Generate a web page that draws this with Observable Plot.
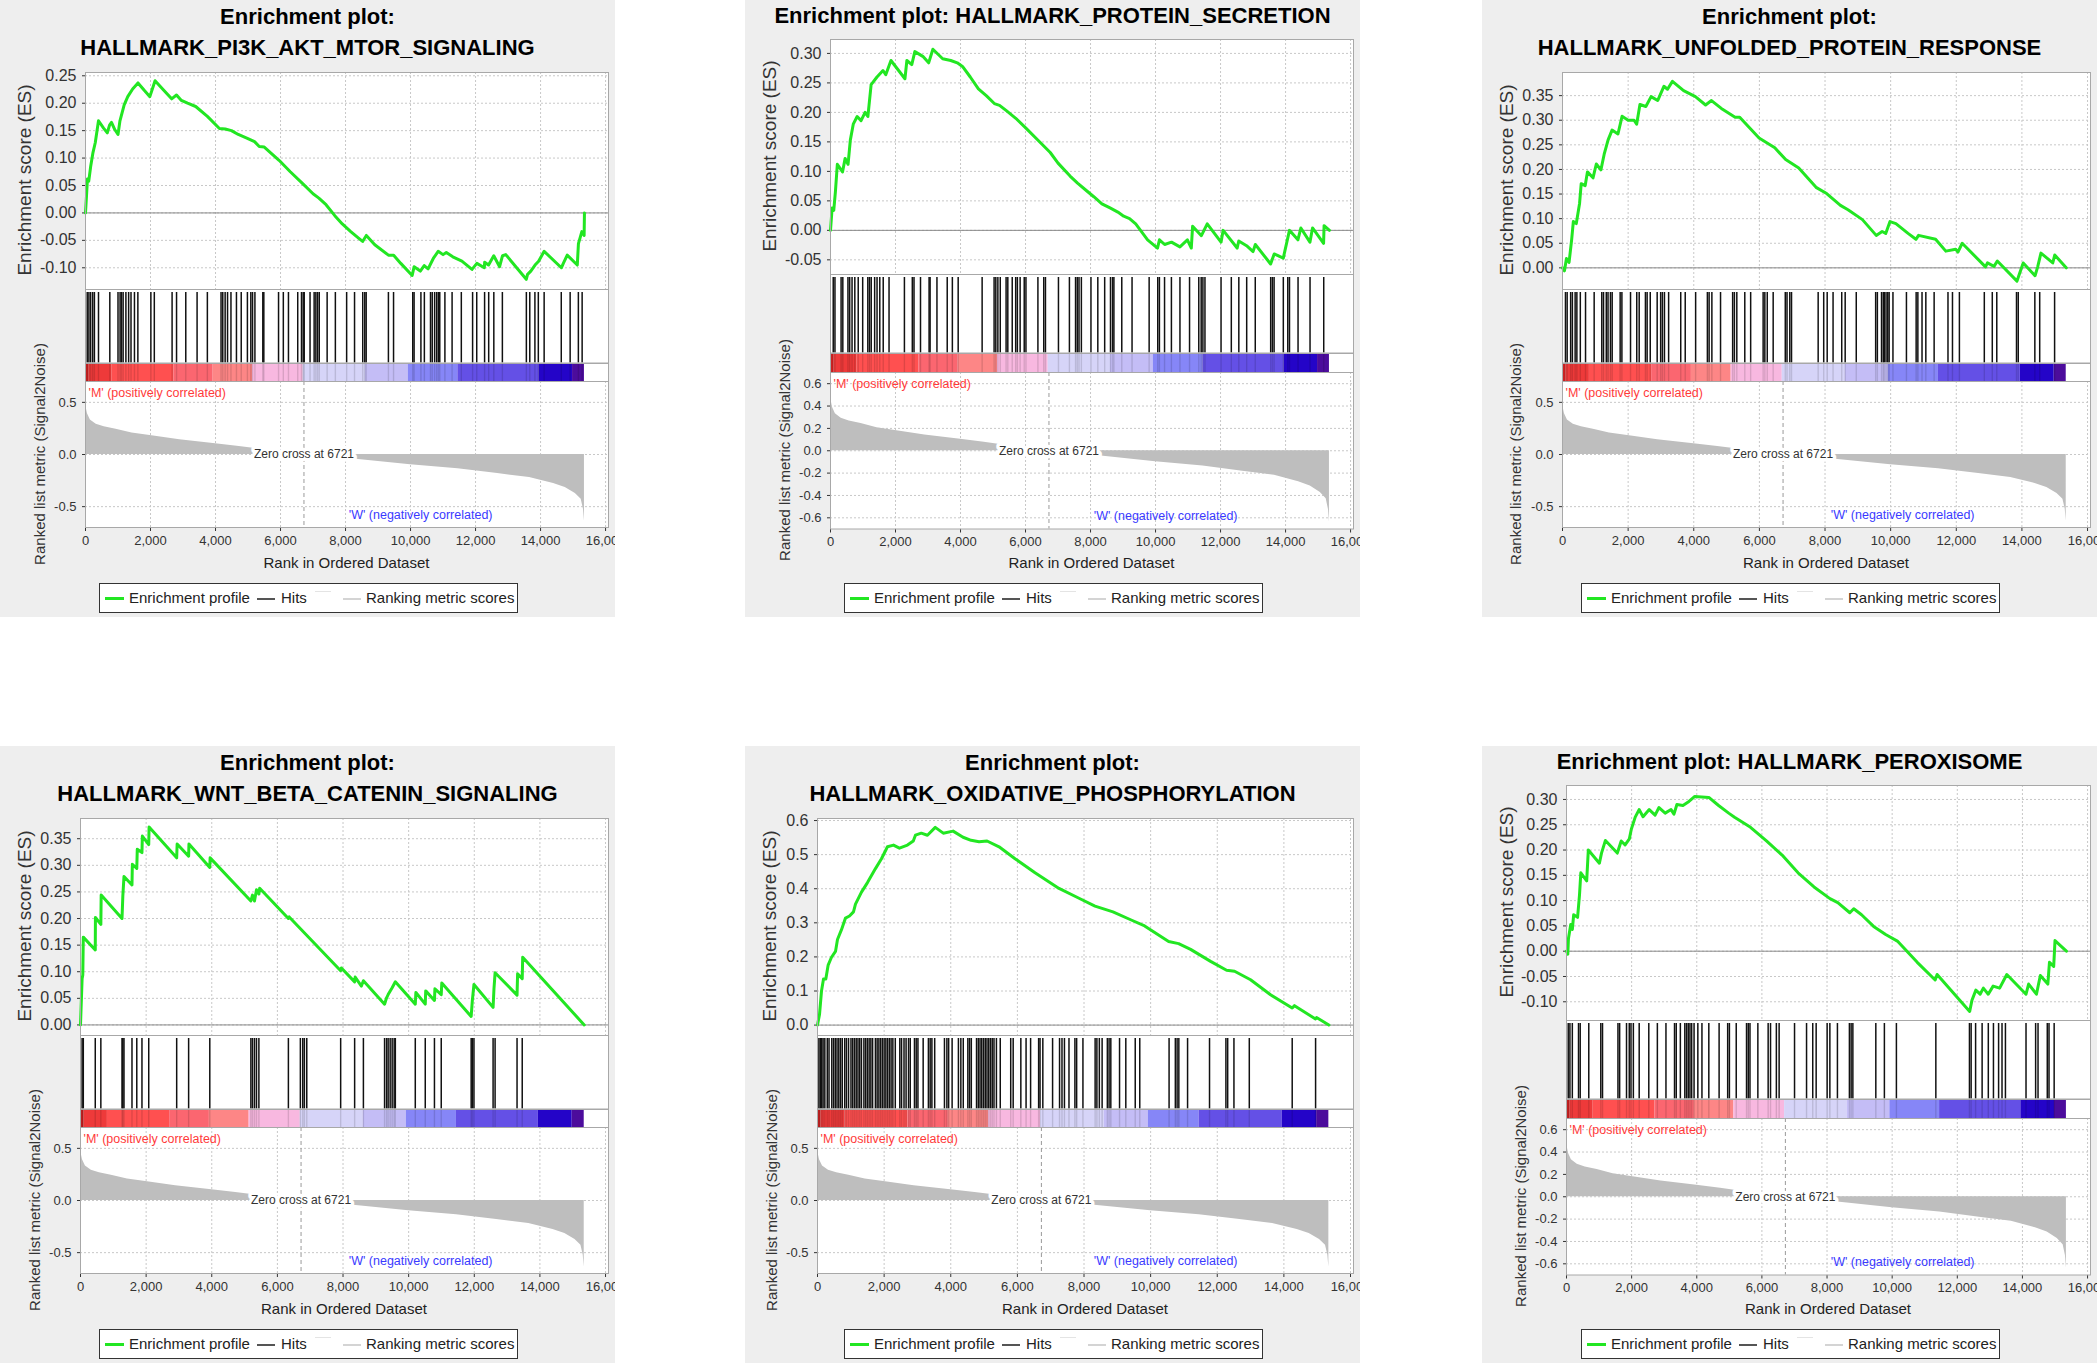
<!DOCTYPE html>
<html>
<head>
<meta charset="utf-8">
<script src="https://cdn.jsdelivr.net/npm/d3@7"></script>
<script src="https://cdn.jsdelivr.net/npm/@observablehq/plot@0.6"></script>
<style>
  body { margin: 0; background: #ffffff; font-family: "Liberation Sans", Arial, sans-serif; }
  #root { position: relative; width: 2098px; height: 1363px; background: #ffffff; }
  .panel { position: absolute; width: 615px; height: 617px; background: #eeeeee; overflow: hidden; }
  .title { position: absolute; left: 0; width: 615px; text-align: center; font-weight: bold; font-size: 22px; line-height: 26px; color: #000; white-space: nowrap; }
  .ylab { position: absolute; white-space: nowrap; transform: translate(-50%, -50%) rotate(-90deg); color: #333; }
  .xlab { position: absolute; white-space: nowrap; transform: translate(-50%, -50%); color: #222; font-size: 15px; }
  .legend { position: absolute; left: 99px; top: 583px; width: 417px; height: 28px; border: 1.5px solid #333; background: #fff; }
  .legend .ln { position: absolute; }
  .legend .tx { position: absolute; top: 0; line-height: 28px; font-size: 15px; color: #222; white-space: nowrap; }
</style>
</head>
<body>
<div id="root"></div>
<script>
// ---------------- data ----------------
const panelTitles = [
  ["Enrichment plot:", "HALLMARK_PI3K_AKT_MTOR_SIGNALING"],
  ["Enrichment plot: HALLMARK_PROTEIN_SECRETION"],
  ["Enrichment plot:", "HALLMARK_UNFOLDED_PROTEIN_RESPONSE"],
  ["Enrichment plot:", "HALLMARK_WNT_BETA_CATENIN_SIGNALING"],
  ["Enrichment plot:", "HALLMARK_OXIDATIVE_PHOSPHORYLATION"],
  ["Enrichment plot: HALLMARK_PEROXISOME"]
];

const xTicks = [0, 2000, 4000, 6000, 8000, 10000, 12000, 14000, 16000];
const zeroCross = 6721;
const posLabel = "'M' (positively correlated)";
const negLabel = "'W' (negatively correlated)";
const zeroLabel = "Zero cross at 6721";
const esAxisTitle = "Enrichment score (ES)";
const metricAxisTitle = "Ranked list metric (Signal2Noise)";
const xAxisTitle = "Rank in Ordered Dataset";
const legendLabels = ["Enrichment profile", "Hits", "Ranking metric scores"];

// ranked list metric (same ranked list for all six sets): [rank, metric]
const metricCurve = [[0,0.52],[20,0.45],[60,0.39],[150,0.33],[330,0.29],[575,0.266],[940,0.243],[1430,0.205],[2040,0.179],[2900,0.141],[4000,0.103],[4730,0.076],[5220,0.057],[6000,0.03],[6721,0.0],[7500,-0.025],[8400,-0.049],[10000,-0.099],[11460,-0.137],[12680,-0.183],[13660,-0.22],[14400,-0.278],[14760,-0.316],[15070,-0.373],[15250,-0.43],[15320,-0.525],[15350,-0.64]];

// colour bar
const barBounds = [0,100,820,2716,3928,5139,6697,8613,9930,11456,13952,14984,15350];
const barColors = ["#cc2222","#ee3a3a","#ff5050","#fb6670","#fd8686","#f8b8e0","#d6d4f8","#c4bdf6","#8686f7","#6450e6","#2404c8","#4c0c9c"];

// running enrichment scores: [rank, ES]
const es1 = [[0,0],[30,0.03],[60,0.062],[100,0.058],[160,0.085],[230,0.11],[300,0.128],[400,0.168],[550,0.155],[670,0.146],[740,0.16],[800,0.165],[900,0.152],[1000,0.143],[1060,0.168],[1190,0.197],[1300,0.212],[1450,0.226],[1615,0.237],[1800,0.224],[1980,0.212],[2140,0.241],[2400,0.224],[2650,0.208],[2800,0.215],[2950,0.205],[3140,0.2],[3390,0.194],[3750,0.176],[4120,0.154],[4300,0.153],[4490,0.15],[4700,0.143],[4980,0.136],[5200,0.13],[5345,0.121],[5500,0.12],[5955,0.096],[6300,0.075],[6690,0.053],[7000,0.035],[7180,0.027],[7400,0.015],[7670,-0.005],[7900,-0.02],[8160,-0.034],[8400,-0.046],[8525,-0.052],[8640,-0.041],[8900,-0.058],[9320,-0.077],[9480,-0.077],[9700,-0.092],[10050,-0.114],[10110,-0.098],[10300,-0.106],[10420,-0.096],[10540,-0.102],[10700,-0.083],[10850,-0.07],[11000,-0.076],[11100,-0.072],[11300,-0.08],[11580,-0.088],[11890,-0.103],[12040,-0.092],[12270,-0.1],[12280,-0.09],[12400,-0.095],[12560,-0.078],[12740,-0.098],[12830,-0.078],[12930,-0.076],[13560,-0.121],[13600,-0.112],[13700,-0.106],[13830,-0.095],[13940,-0.088],[14110,-0.07],[14640,-0.1],[14700,-0.092],[14820,-0.077],[15130,-0.095],[15165,-0.056],[15270,-0.034],[15340,-0.041],[15350,0.0]];
const es2 = [[0,0],[50,0.038],[100,0.034],[150,0.065],[210,0.112],[370,0.099],[450,0.122],[540,0.112],[610,0.153],[700,0.18],[820,0.193],[940,0.186],[1065,0.2],[1150,0.193],[1250,0.247],[1430,0.26],[1615,0.271],[1700,0.264],[1860,0.288],[2290,0.257],[2350,0.288],[2500,0.281],[2595,0.303],[2840,0.295],[3020,0.284],[3150,0.307],[3450,0.291],[3700,0.288],[3900,0.284],[4060,0.278],[4300,0.26],[4550,0.24],[4800,0.228],[5040,0.215],[5200,0.212],[5410,0.203],[5700,0.19],[6020,0.173],[6400,0.152],[6760,0.132],[7000,0.114],[7370,0.092],[7600,0.08],[7860,0.068],[8100,0.057],[8350,0.045],[8600,0.038],[8840,0.031],[9020,0.024],[9200,0.02],[9390,0.011],[9755,-0.016],[10060,-0.03],[10120,-0.016],[10280,-0.024],[10490,-0.02],[10750,-0.028],[10980,-0.016],[11100,-0.03],[11140,0.007],[11410,-0.009],[11590,0.011],[12015,-0.02],[12080,0.0],[12510,-0.03],[12560,-0.018],[12800,-0.026],[13000,-0.036],[13070,-0.024],[13540,-0.057],[13650,-0.04],[13930,-0.047],[14120,0.0],[14380,-0.016],[14470,0.004],[14750,-0.02],[14830,0.004],[15170,-0.022],[15185,0.008],[15350,0.0]];
const es3 = [[0,0],[60,-0.006],[120,0.019],[200,0.011],[280,0.058],[330,0.094],[420,0.09],[520,0.131],[570,0.171],[690,0.167],[760,0.195],[930,0.183],[1030,0.211],[1170,0.199],[1270,0.231],[1390,0.26],[1510,0.28],[1690,0.272],[1815,0.308],[2000,0.3],[2180,0.3],[2260,0.292],[2360,0.332],[2540,0.328],[2700,0.348],[2900,0.34],[3090,0.369],[3200,0.363],[3350,0.379],[3690,0.36],[4050,0.348],[4360,0.331],[4540,0.34],[4840,0.324],[5260,0.306],[5400,0.306],[5990,0.264],[6470,0.244],[6800,0.22],[7200,0.203],[7740,0.163],[8050,0.151],[8470,0.127],[8700,0.118],[9140,0.098],[9560,0.066],[9740,0.074],[9850,0.07],[9980,0.094],[10160,0.09],[10530,0.07],[10770,0.058],[10850,0.066],[11370,0.058],[11680,0.034],[11980,0.038],[12050,0.032],[12180,0.05],[12890,0.002],[12950,0.01],[13150,0.003],[13250,0.014],[13850,-0.027],[13910,-0.015],[14040,0.01],[14400,-0.016],[14480,0.002],[14580,0.03],[14940,0.01],[15000,0.026],[15350,0.0]];
const es4 = [[0,0],[49,0.087],[70,0.094],[85,0.165],[450,0.141],[455,0.202],[620,0.189],[630,0.244],[1265,0.2],[1290,0.242],[1325,0.279],[1569,0.263],[1580,0.302],[1715,0.294],[1730,0.33],[1873,0.324],[1885,0.355],[2079,0.339],[2090,0.372],[2931,0.314],[2945,0.34],[3295,0.317],[3305,0.34],[3940,0.296],[3950,0.314],[5192,0.233],[5241,0.244],[5302,0.233],[5363,0.254],[5436,0.246],[5460,0.257],[6335,0.2],[6360,0.203],[7928,0.102],[7950,0.107],[8354,0.081],[8370,0.09],[8560,0.073],[8621,0.083],[9266,0.039],[9327,0.051],[9375,0.057],[9497,0.07],[9594,0.081],[10202,0.039],[10220,0.061],[10506,0.039],[10520,0.064],[10786,0.046],[10800,0.068],[10993,0.057],[11010,0.079],[11905,0.016],[11941,0.046],[11990,0.076],[12573,0.033],[12600,0.068],[12634,0.098],[13303,0.056],[13320,0.096],[13461,0.087],[13475,0.127],[15350,0.0]];
const es5 = [[0,0],[60,0.031],[120,0.1],[180,0.135],[250,0.135],[320,0.176],[420,0.199],[540,0.216],[600,0.251],[720,0.28],[840,0.314],[960,0.32],[1080,0.332],[1140,0.355],[1320,0.39],[1500,0.418],[1740,0.459],[1920,0.488],[2100,0.523],[2280,0.528],[2460,0.519],[2700,0.528],[2875,0.54],[2940,0.557],[3115,0.563],[3300,0.557],[3535,0.58],[3775,0.563],[4070,0.569],[4370,0.551],[4610,0.542],[4850,0.538],[5090,0.54],[5450,0.523],[5930,0.488],[6530,0.447],[7250,0.401],[7850,0.372],[8330,0.349],[8870,0.332],[9400,0.309],[9820,0.291],[10540,0.245],[10840,0.239],[11200,0.222],[11800,0.187],[12280,0.161],[12520,0.158],[13000,0.133],[13600,0.089],[14250,0.05],[14320,0.057],[14950,0.018],[14980,0.022],[15350,0.0]];
const es6 = [[0,0],[40,-0.006],[60,0.025],[130,0.053],[180,0.043],[220,0.072],[340,0.067],[400,0.112],[440,0.155],[620,0.139],[670,0.2],[1010,0.174],[1075,0.194],[1195,0.219],[1560,0.194],[1680,0.218],[1800,0.21],[1930,0.222],[1990,0.241],[2110,0.265],[2230,0.28],[2350,0.266],[2540,0.28],[2720,0.269],[2840,0.284],[3030,0.273],[3210,0.28],[3300,0.271],[3390,0.29],[3575,0.288],[3760,0.296],[3940,0.306],[4370,0.304],[4670,0.288],[4980,0.273],[5160,0.265],[5650,0.245],[6140,0.218],[6620,0.19],[7110,0.155],[7600,0.127],[8090,0.104],[8330,0.096],[8700,0.076],[8820,0.084],[9060,0.072],[9430,0.049],[9800,0.033],[10160,0.02],[10770,-0.022],[11320,-0.057],[11380,-0.046],[12380,-0.119],[12450,-0.097],[12570,-0.077],[12700,-0.085],[12800,-0.073],[12950,-0.085],[13100,-0.069],[13300,-0.073],[13520,-0.046],[14110,-0.085],[14190,-0.065],[14430,-0.085],[14550,-0.048],[14780,-0.065],[14830,-0.022],[14960,-0.03],[15000,0.021],[15350,0.0]];

// hit positions (rank)
const hits1 = [53,105,158,221,274,400,748,1000,1064,1106,1158,1243,1327,1400,1506,1611,2011,2117,2664,2801,3085,3433,3749,4170,4223,4296,4370,4475,4644,4791,4981,5086,5139,5212,5455,5486,5939,6086,6244,6529,6645,6697,6729,6908,7034,7087,7140,7192,7434,7687,8034,8277,8529,8592,8635,9319,9477,10067,10109,10319,10425,10614,10667,10741,10804,10856,10899,11057,11278,11562,11909,12036,12278,12404,12562,12825,13563,13668,13826,13931,14110,14637,14910,15163,15279];
const hits2 = [84,137,326,379,537,590,663,748,853,990,1148,1200,1253,1358,1432,1516,1622,1801,2274,2517,2569,2769,3033,3064,3275,3591,3749,3928,4665,5033,5086,5149,5223,5402,5455,5591,5697,5749,5834,5960,6013,6381,6560,6613,7013,7350,7539,7592,7645,7718,8013,8224,8435,8614,8677,8719,8961,9277,9803,10067,10119,10277,10488,10751,11046,11330,11404,11457,11520,12015,12331,12562,12804,13068,13542,13594,13647,13931,14068,14121,14384,14753,15174];
const hits3 = [90,142,248,301,385,438,543,702,965,1197,1250,1334,1387,1461,1514,1757,1810,2073,2263,2337,2527,2579,2674,2885,2991,3044,3107,3234,3603,3740,4057,4415,4468,4552,4816,5185,5238,5312,5555,5734,6114,6166,6240,6420,6789,6842,6926,6979,7791,7960,8066,8245,8509,8614,8952,9543,9595,9722,9775,9806,9859,9912,9954,10070,10481,10777,10829,10956,11072,11325,11747,11884,12095,12854,13097,13234,13835,13888,14394,14542,14996];
const hits4 = [49,85,450,620,1265,1289,1325,1569,1715,1873,2079,2931,3295,3940,5192,5241,5302,5363,5436,6335,6700,6773,6822,6895,7928,8354,8621,9266,9327,9375,9436,9497,9558,9594,10202,10506,10786,10993,11905,11941,11990,12573,12634,13303,13461];
const hits5 = [42,84,126,168,220,293,346,429,482,534,586,639,691,743,817,869,932,1005,1057,1110,1162,1215,1267,1319,1393,1445,1497,1550,1602,1654,1738,1790,1843,1895,1947,2000,2052,2104,2157,2209,2262,2335,2471,2523,2597,2659,2733,2785,2911,2963,3015,3172,3329,3382,3434,3518,3811,3884,3937,4041,4230,4303,4376,4513,4565,4617,4774,4827,4879,4931,4984,5036,5088,5141,5193,5245,5298,5371,5486,5800,5874,6104,6261,6397,6638,6680,6764,7057,7266,7339,7413,7549,7727,7779,7968,8334,8387,8460,8544,8701,8753,8805,9067,9255,9538,9674,10554,10742,10795,10847,11109,11768,12260,12313,12501,12962,14250,14952];
const hits6 = [53,105,179,369,421,684,1053,1106,1580,1632,1843,1927,1980,2053,2232,2527,2790,3054,3317,3370,3496,3633,3686,3738,3791,3843,3917,4033,4159,4370,4686,4949,5002,5212,5528,5581,5634,5876,6192,6265,6444,6529,7002,7371,7561,7666,8003,8087,8319,8687,8740,8793,9498,9761,10130,11341,12373,12425,12562,12762,12952,13110,13268,13373,13478,14110,14405,14479,14763,14816,14974];

// y tick values
const esTicks1 = [-0.10,-0.05,0.00,0.05,0.10,0.15,0.20,0.25];
const esTicks2 = [-0.05,0.00,0.05,0.10,0.15,0.20,0.25,0.30];
const esTicks3 = [0.00,0.05,0.10,0.15,0.20,0.25,0.30,0.35];
const esTicks4 = [0.00,0.05,0.10,0.15,0.20,0.25,0.30,0.35];
const esTicks5 = [0.0,0.1,0.2,0.3,0.4,0.5,0.6];
const esTicks6 = [-0.10,-0.05,0.00,0.05,0.10,0.15,0.20,0.25,0.30];
const metricTicksA = [-0.5,0.0,0.5];
const metricTicksB = [-0.6,-0.4,-0.2,0.0,0.2,0.4,0.6];

// ---------------- layout / options ----------------
const loc = d3.formatLocale({decimal: ".", thousands: ",", grouping: [3], currency: ["$", ""], minus: "-"});
const fmt2 = loc.format(".2f"), fmt1 = loc.format(".1f"), fmtComma = loc.format(",");
const xDomain = [0, 16090];
const metricDomain = [-0.7, 0.7];
const FONT = "'Liberation Sans', Arial, sans-serif";
const GREEN = "#22e622";
const GRID = "#c8c8c8";

const layoutTwo = {titleY: [16.7, 47.7], esTop: 71.5, esBottom: 289, hitsBottom: 362.5, barBottom: 381, metricBottom: 527};
const layoutOne = {titleY: [16], esTop: 38.5, esBottom: 274, hitsBottom: 352.5, barBottom: 372, metricBottom: 528.5};

const panels = [
  {title: panelTitles[0], es: es1, hits: hits1, esTicks: esTicks1, esFmt: fmt2, esDomain: [-0.1405, 0.256], mTicks: metricTicksA, left: 0, top: 0, frameLeft: 85, mTitleX: 38.5},
  {title: panelTitles[1], es: es2, hits: hits2, esTicks: esTicks2, esFmt: fmt2, esDomain: [-0.0757, 0.3236], mTicks: metricTicksB, left: 745, top: 0, frameLeft: 85, mTitleX: 38.5},
  {title: panelTitles[2], es: es3, hits: hits3, esTicks: esTicks3, esFmt: fmt2, esDomain: [-0.045, 0.397], mTicks: metricTicksA, left: 1482, top: 0, frameLeft: 80, mTitleX: 33},
  {title: panelTitles[3], es: es4, hits: hits4, esTicks: esTicks4, esFmt: fmt2, esDomain: [-0.0208, 0.388], mTicks: metricTicksA, left: 0, top: 746, frameLeft: 80, mTitleX: 34},
  {title: panelTitles[4], es: es5, hits: hits5, esTicks: esTicks5, esFmt: fmt1, esDomain: [-0.032, 0.606], mTicks: metricTicksA, left: 745, top: 746, frameLeft: 72, mTitleX: 26},
  {title: panelTitles[5], es: es6, hits: hits6, esTicks: esTicks6, esFmt: fmt2, esDomain: [-0.138, 0.3276], mTicks: metricTicksB, left: 1482, top: 746, frameLeft: 84, mTitleX: 37.7}
];

const W = 615, MR = 7;
const root = document.getElementById("root");
const barSegments = barColors.map((c, i) => ({x1: barBounds[i], x2: barBounds[i + 1], fill: c}));

function place(el, top, parent) {
  el.style.position = "absolute";
  el.style.left = "0px";
  el.style.top = top + "px";
  parent.appendChild(el);
}
function addDiv(parent, cls, text, css) {
  const d = document.createElement("div");
  d.className = cls;
  d.textContent = text;
  Object.assign(d.style, css);
  parent.appendChild(d);
  return d;
}

for (const p of panels) {
  const L = p.title.length === 2 ? layoutTwo : layoutOne;
  const panel = document.createElement("div");
  panel.className = "panel";
  panel.style.left = p.left + "px";
  panel.style.top = p.top + "px";
  root.appendChild(panel);

  p.title.forEach((t, i) => addDiv(panel, "title", t, {top: (L.titleY[i] - 13) + "px"}));

  const baseStyle = {background: "transparent", fontFamily: FONT, color: "#333", overflow: "visible"};

  // ---- enrichment score panel ----
  const esPad = 12;
  const esPlot = Plot.plot({
    width: W, height: (L.esBottom - L.esTop) + esPad,
    marginTop: esPad, marginBottom: 0, marginLeft: p.frameLeft, marginRight: MR,
    style: {...baseStyle, fontSize: "16px"},
    x: {domain: xDomain, axis: null},
    y: {domain: p.esDomain, ticks: p.esTicks, tickFormat: p.esFmt, tickSize: 3, tickPadding: 6, label: null},
    marks: [
      Plot.frame({fill: "white", stroke: "none"}),
      Plot.ruleX(xTicks, {stroke: GRID, strokeDasharray: "2,2"}),
      Plot.ruleY(p.esTicks, {stroke: GRID, strokeDasharray: "2,2"}),
      Plot.ruleY([0], {stroke: "#8a8a8a", strokeWidth: 1}),
      Plot.line(p.es, {x: d => d[0], y: d => d[1], stroke: GREEN, strokeWidth: 3}),
      Plot.frame({stroke: "#a8a8a8"})
    ]
  });
  place(esPlot, L.esTop - esPad, panel);

  // ---- hits ----
  const hitsPlot = Plot.plot({
    width: W, height: L.hitsBottom - L.esBottom,
    marginTop: 0, marginBottom: 0, marginLeft: p.frameLeft, marginRight: MR,
    style: baseStyle,
    x: {domain: xDomain, axis: null},
    marks: [
      Plot.frame({fill: "white", stroke: "none"}),
      Plot.ruleX(p.hits, {x: d => d, stroke: "#111", strokeWidth: 1.5, insetTop: 3}),
      Plot.frame({stroke: "#a8a8a8"})
    ]
  });
  place(hitsPlot, L.esBottom, panel);

  // ---- colour bar ----
  const barPlot = Plot.plot({
    width: W, height: L.barBottom - L.hitsBottom,
    marginTop: 0, marginBottom: 0, marginLeft: p.frameLeft, marginRight: MR,
    style: baseStyle,
    x: {domain: xDomain, axis: null},
    color: {type: "identity"},
    marks: [
      Plot.frame({fill: "white", stroke: "none"}),
      Plot.barX(barSegments, {x1: "x1", x2: "x2", fill: "fill"}),
      Plot.ruleX(p.hits, {x: d => d, stroke: "#000", strokeOpacity: 0.13, strokeWidth: 1.4}),
      Plot.frame({stroke: "#a8a8a8"})
    ]
  });
  place(barPlot, L.hitsBottom, panel);

  // ---- ranked list metric ----
  const mBottom = 40;
  const metricPlot = Plot.plot({
    width: W, height: (L.metricBottom - L.barBottom) + mBottom,
    marginTop: 0, marginBottom: mBottom, marginLeft: p.frameLeft, marginRight: MR,
    style: {...baseStyle, fontSize: "13px"},
    x: {domain: xDomain, ticks: xTicks, tickFormat: fmtComma, tickSize: 4, tickPadding: 4, label: null},
    y: {domain: metricDomain, ticks: p.mTicks, tickFormat: fmt1, tickSize: 3, tickPadding: 6, label: null},
    marks: [
      Plot.frame({fill: "white", stroke: "none"}),
      Plot.ruleX(xTicks, {stroke: GRID, strokeDasharray: "2,2"}),
      Plot.ruleY(p.mTicks, {stroke: GRID, strokeDasharray: "2,2"}),
      Plot.areaY(metricCurve, {x: d => d[0], y: d => d[1], fill: "#bebebe"}),
      Plot.ruleX([zeroCross], {stroke: "#9a9a9a", strokeDasharray: "4,3"}),
      Plot.text([zeroLabel], {x: zeroCross, y: 0, text: d => d, fill: "white", stroke: "white", strokeWidth: 7, fontSize: 12}),
      Plot.text([zeroLabel], {x: zeroCross, y: 0, text: d => d, fill: "#333", fontSize: 12}),
      Plot.text([posLabel], {frameAnchor: "top-left", text: d => d, textAnchor: "start", dx: 3, dy: 7, fill: "#ff3a3a", fontSize: 12.5}),
      Plot.text([negLabel], {frameAnchor: "bottom-right", text: d => d, textAnchor: "end", dx: -116, dy: -9, fill: "#3a3aff", fontSize: 12.5}),
      Plot.frame({stroke: "#a8a8a8"})
    ]
  });
  place(metricPlot, L.barBottom, panel);

  // ---- axis titles ----
  addDiv(panel, "ylab", esAxisTitle, {left: "25px", top: ((L.esTop + L.esBottom) / 2) + "px", fontSize: "19px"});
  addDiv(panel, "ylab", metricAxisTitle, {left: p.mTitleX + "px", top: ((L.barBottom + L.metricBottom) / 2) + "px", fontSize: "15px"});
  addDiv(panel, "xlab", xAxisTitle, {left: ((p.frameLeft + W - MR) / 2) + "px", top: "562px"});

  // ---- legend ----
  const lg = document.createElement("div");
  lg.className = "legend";
  panel.appendChild(lg);
  const seg = (left, top, w, h, bg) => {
    const s = document.createElement("div");
    s.className = "ln";
    Object.assign(s.style, {left: left + "px", top: top + "px", width: w + "px", height: h + "px", background: bg});
    lg.appendChild(s);
  };
  seg(5, 13, 19, 3, GREEN);
  addDiv(lg, "tx", legendLabels[0], {left: "29px"});
  seg(157, 14, 18, 2, "#555");
  addDiv(lg, "tx", legendLabels[1], {left: "181px"});
  seg(215, 7, 16, 1, "#e4e4e4");
  seg(243, 14, 18, 2, "#d4d4d4");
  addDiv(lg, "tx", legendLabels[2], {left: "266px"});
}
</script>
</body>
</html>
